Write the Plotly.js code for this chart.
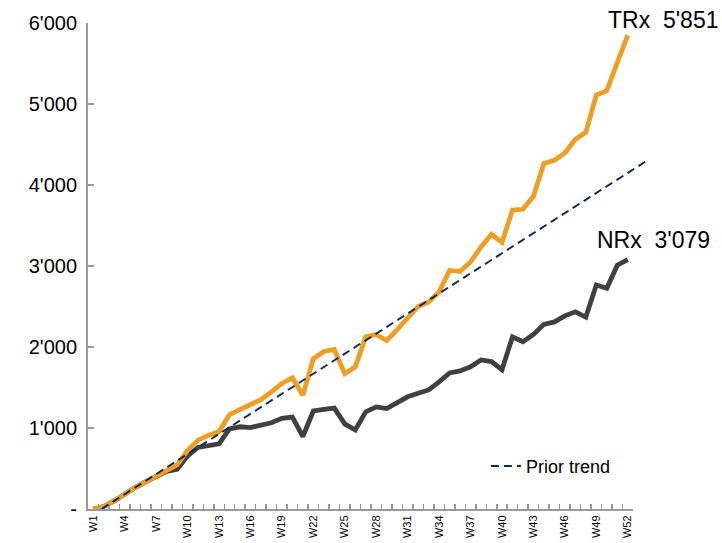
<!DOCTYPE html>
<html>
<head>
<meta charset="utf-8">
<script src="https://cdn.plot.ly/plotly-3.0.1.min.js"></script>
<style>
  html, body { margin: 0; padding: 0; background: #ffffff; }
  #chart { width: 722px; height: 543px; }
</style>
</head>
<body>
<div id="chart"></div>
<script>
// Weekly cumulative prescriptions
const weeks = ['W1','W2','W3','W4','W5','W6','W7','W8','W9','W10','W11','W12','W13',
  'W14','W15','W16','W17','W18','W19','W20','W21','W22','W23','W24','W25','W26',
  'W27','W28','W29','W30','W31','W32','W33','W34','W35','W36','W37','W38','W39',
  'W40','W41','W42','W43','W44','W45','W46','W47','W48','W49','W50','W51','W52'];

const trx = [0, 30, 100, 185, 265, 335, 410, 485, 545, 720, 850, 910, 955,
  1165, 1230, 1290, 1350, 1445, 1550, 1620, 1405, 1855, 1945, 1970, 1670, 1755,
  2125, 2155, 2080, 2215, 2355, 2500, 2555, 2680, 2945, 2935, 3050, 3235, 3390,
  3290, 3690, 3700, 3860, 4265, 4305, 4395, 4565, 4650, 5110, 5165, 5510, 5851];

const nrx = [0, 30, 100, 185, 265, 335, 405, 465, 490, 655, 760, 785, 805,
  990, 1015, 1005, 1030, 1065, 1120, 1135, 895, 1210, 1230, 1245, 1050, 975,
  1200, 1260, 1240, 1310, 1385, 1430, 1470, 1570, 1680, 1705, 1755, 1840, 1820,
  1720, 2125, 2065, 2155, 2280, 2310, 2385, 2435, 2370, 2765, 2725, 3010, 3079];

// Prior trend line (week position, value)
const trendWeeks = [1.8, 53.7];
const trendValues = [0, 4290];

const yTicks = [0, 1000, 2000, 3000, 4000, 5000, 6000];
const xLabelEvery = 3;

function fmt(v) {
  return String(Math.round(v)).replace(/\B(?=(\d{3})+(?!\d))/g, "'");
}

const weekNums = weeks.map((w, i) => i + 1);
const labelVals = weekNums.filter(n => (n - 1) % xLabelEvery === 0);
const labelText = labelVals.map(n => weeks[n - 1]);
const boundaries = weekNums.map(n => n - 0.5).concat([weeks.length + 0.5]);

const FONT = 'Liberation Sans, Arial, sans-serif';
const AXIS = '#999999';
// the week axis stops at W52; the trend axis runs a little further right
const mainFrac = 545 / 562;

const traces = [
  {
    x: weekNums, y: nrx, type: 'scatter', mode: 'lines', name: 'NRx',
    line: { color: '#404040', width: 4.8 }, showlegend: false,
    xaxis: 'x', yaxis: 'y'
  },
  {
    x: weekNums, y: trx, type: 'scatter', mode: 'lines', name: 'TRx',
    line: { color: '#EE9E22', width: 4.8 }, showlegend: false,
    xaxis: 'x', yaxis: 'y'
  },
  {
    x: trendWeeks, y: trendValues, type: 'scatter', mode: 'lines', name: 'Prior trend',
    line: { color: '#0E2A5C', width: 2, dash: '8px,5px' },
    xaxis: 'x2', yaxis: 'y'
  }
];

const last = weeks.length;

const layout = {
  width: 722, height: 543,
  margin: { l: 88, r: 72, t: 23, b: 34 },
  paper_bgcolor: '#ffffff', plot_bgcolor: 'rgba(0,0,0,0)',
  font: { family: FONT, color: '#000000' },
  xaxis: {
    domain: [0, mainFrac],
    range: [0.5, last + 0.5],
    tickmode: 'array', tickvals: labelVals, ticktext: labelText,
    tickangle: -90, tickfont: { size: 11, family: FONT },
    ticks: 'inside', ticklen: 5, tickcolor: 'rgba(0,0,0,0)',
    minor: { tickvals: boundaries, ticks: 'inside', ticklen: 5, tickwidth: 1.5, tickcolor: AXIS },
    showline: true, linecolor: AXIS, linewidth: 2,
    showgrid: false, zeroline: false
  },
  xaxis2: {
    domain: [0, 1],
    range: [0.5, 0.5 + last / mainFrac],
    anchor: 'y', visible: false, showgrid: false, zeroline: false
  },
  yaxis: {
    range: [0, 6000],
    tickmode: 'array', tickvals: yTicks,
    ticktext: yTicks.map(v => v === 0 ? '-' : fmt(v)),
    tickfont: { size: 20, family: FONT },
    ticks: 'inside', ticklen: 6, tickwidth: 2, tickcolor: AXIS,
    ticklabelstandoff: 5,
    showline: true, linecolor: AXIS, linewidth: 2,
    showgrid: false, zeroline: false
  },
  showlegend: true,
  legend: {
    x: 0.708, y: 0.088, xanchor: 'left', yanchor: 'middle',
    font: { size: 18, family: FONT }, bgcolor: 'rgba(0,0,0,0)'
  },
  annotations: [
    {
      xref: 'x', yref: 'y', x: last, y: trx[last - 1],
      text: 'TRx  ' + fmt(trx[last - 1]), showarrow: false,
      xanchor: 'center', yanchor: 'middle', xshift: 36, yshift: 15,
      font: { size: 23, family: FONT, color: '#000000' }
    },
    {
      xref: 'x', yref: 'y', x: last, y: nrx[last - 1],
      text: 'NRx  ' + fmt(nrx[last - 1]), showarrow: false,
      xanchor: 'center', yanchor: 'middle', xshift: 26, yshift: 20,
      font: { size: 23, family: FONT, color: '#000000' }
    }
  ]
};

Plotly.newPlot('chart', traces, layout, { displayModeBar: false, staticPlot: true });
</script>
</body>
</html>
